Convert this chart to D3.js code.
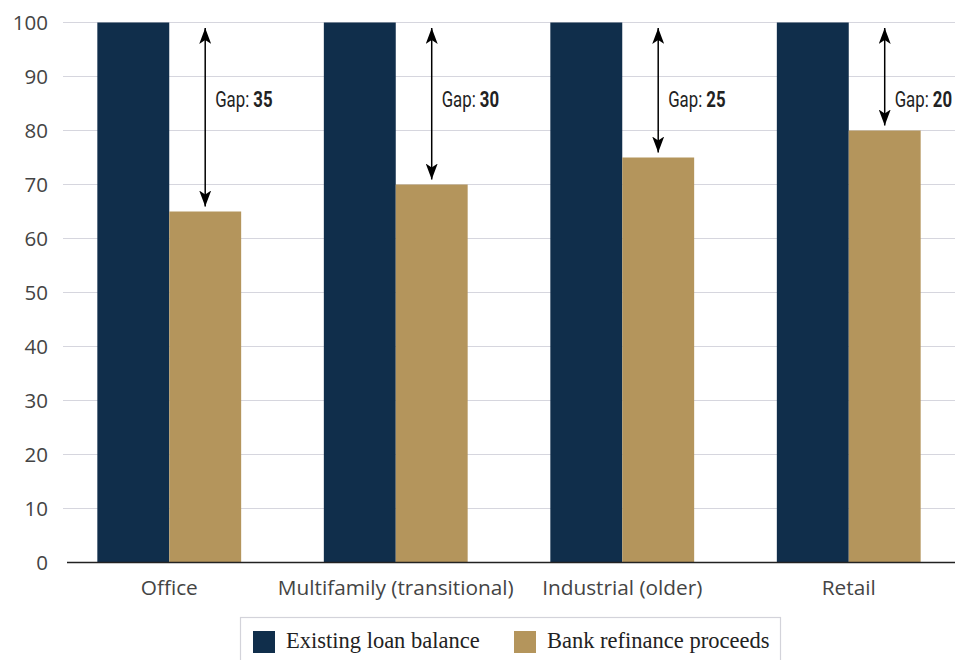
<!DOCTYPE html>
<html><head><meta charset="utf-8">
<script src="https://cdn.jsdelivr.net/npm/d3@7"></script>
<style>
body{margin:0;background:#fff;}
svg{display:block;}
</style></head>
<body>
<svg id="chart" width="968" height="660"></svg>
<script>
const categories = ["Office","Multifamily (transitional)","Industrial (older)","Retail"];
const existingLoan = [100,100,100,100];
const refiProceeds = [65,70,75,80];
const gaps = [35,30,25,20];
const seriesNames = ["Existing loan balance","Bank refinance proceeds"];
const yTicks = [0,10,20,30,40,50,60,70,80,90,100];

const colors = ["#102e4b","#b4955c"];
const svg = d3.select("#chart");

const y = d3.scaleLinear().domain([0,100]).range([562.5,22.5]);
const x = d3.scaleBand().domain(categories).range([56,962]).paddingInner(0.365).paddingOuter(0.1825);
const xs = d3.scaleBand().domain([0,1]).range([0,x.bandwidth()]);

// gridlines
svg.append("g").selectAll("line").data(yTicks.filter(d=>d>0)).join("line")
  .attr("x1",63).attr("x2",955).attr("y1",d=>y(d)).attr("y2",d=>y(d))
  .attr("stroke","#d6d6de").attr("stroke-width",1);

// y axis labels
const yAxis = d3.axisLeft(y).tickValues(yTicks).tickSize(0).tickPadding(0);
const ya = svg.append("g").attr("transform","translate(48,0)").call(yAxis);
ya.select(".domain").remove();
ya.selectAll("text").attr("font-family","'Open Sans', Lato, sans-serif").attr("font-size",20.5).attr("fill","#444");

// bars
const groups = svg.append("g").selectAll("g").data(categories).join("g")
  .attr("transform",d=>`translate(${x(d)},0)`);
groups.append("rect").attr("x",xs(0)).attr("width",xs.bandwidth())
  .attr("y",(d,i)=>y(existingLoan[i])).attr("height",(d,i)=>y(0)-y(existingLoan[i])).attr("fill",colors[0]);
groups.append("rect").attr("x",xs(1)).attr("width",xs.bandwidth())
  .attr("y",(d,i)=>y(refiProceeds[i])).attr("height",(d,i)=>y(0)-y(refiProceeds[i])).attr("fill",colors[1]);

// x axis
const xa = svg.append("g").attr("transform",`translate(0,${y(0)})`).call(d3.axisBottom(x).tickSize(0).tickPadding(18));
xa.select(".domain").remove();
xa.selectAll("text").attr("font-family","'Open Sans', Lato, sans-serif").attr("font-size",20.8).attr("fill","#444");
svg.append("line").attr("x1",67).attr("x2",955).attr("y1",y(0)).attr("y2",y(0)).attr("stroke","#222").attr("stroke-width",1.5);

// arrows
const defs = svg.append("defs");
defs.append("marker").attr("id","ah").attr("viewBox","0 0 16 12").attr("refX",16).attr("refY",6)
  .attr("markerWidth",16).attr("markerHeight",12).attr("markerUnits","userSpaceOnUse").attr("orient","auto-start-reverse")
  .append("path").attr("d","M16,6 L0,0 L4,6 L0,12 Z").attr("fill","#000");

const ag = svg.append("g");
categories.forEach((c,i)=>{
  const cx = x(c)+xs(1)+xs.bandwidth()/2;
  ag.append("line").attr("x1",cx).attr("x2",cx)
    .attr("y1",y(existingLoan[i])+5.5).attr("y2",y(refiProceeds[i])-5)
    .attr("stroke","#000").attr("stroke-width",1.5)
    .attr("marker-start","url(#ah)").attr("marker-end","url(#ah)");
  const t = ag.append("text").attr("transform",`translate(${cx+10},${y(85.3)}) scale(0.78,1)`)
    .attr("dominant-baseline","middle")
    .attr("font-family","Roboto, 'DejaVu Sans', sans-serif")
    .attr("font-size",21.5).attr("fill","#222");
  t.append("tspan").text("Gap: ");
  t.append("tspan").attr("font-weight","bold").text(gaps[i]);
});

// legend
const lg = svg.append("g");
lg.append("rect").attr("x",240.5).attr("y",617.5).attr("width",540).attr("height",60)
  .attr("fill","#fff").attr("stroke","#d3d3da").attr("stroke-width",1.2);
const legX = [253,514];
seriesNames.forEach((s,i)=>{
  lg.append("rect").attr("x",legX[i]).attr("y",631).attr("width",22).attr("height",22).attr("fill",colors[i]);
  lg.append("text").attr("x",legX[i]+33).attr("y",648).attr("font-family","'Liberation Serif','DejaVu Serif',serif")
    .attr("font-size",22.5).attr("fill","#222").text(s);
});
</script>
</body></html>
